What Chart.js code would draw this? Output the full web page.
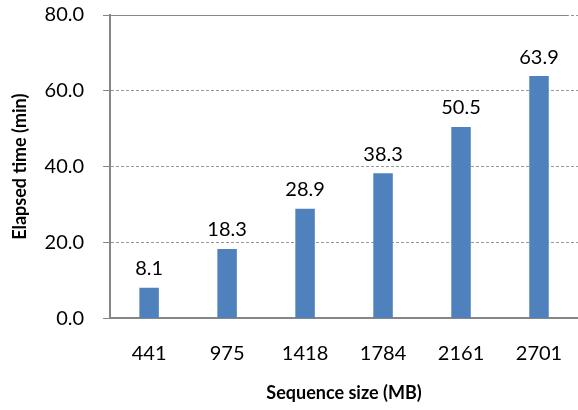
<!DOCTYPE html>
<html>
<head>
<meta charset="utf-8">
<script src="https://cdn.jsdelivr.net/npm/chart.js@4"></script>
<style>
  html, body { margin: 0; padding: 0; background: #fff; }
  #wrap { width: 578px; height: 410px; }
</style>
</head>
<body>
<div id="wrap"><canvas id="myChart"></canvas></div>
<script>
var sizes = ["441", "975", "1418", "1784", "2161", "2701"];
var elapsed = [8.1, 18.3, 28.9, 38.3, 50.5, 63.9];
var yTicks = [0, 20, 40, 60, 80];

var FONT = "Lato, 'Open Sans', sans-serif";

// value labels above each bar
var valueLabels = {
  id: "valueLabels",
  afterDatasetsDraw: function (chart) {
    var c = chart.ctx;
    var meta = chart.getDatasetMeta(0);
    c.save();
    c.font = "20px " + FONT;
    c.fillStyle = "#000";
    c.textAlign = "center";
    c.textBaseline = "bottom";
    meta.data.forEach(function (bar, i) {
      c.fillText(elapsed[i].toFixed(1), bar.x, bar.y - 9);
    });
    c.restore();
  },
};

// solid line at the top of the value axis
var topLine = {
  id: "topLine",
  afterDraw: function (chart) {
    var c = chart.ctx;
    var y = chart.scales.y.getPixelForValue(yTicks[yTicks.length - 1]);
    c.save();
    c.strokeStyle = "#868686";
    c.lineWidth = 1;
    c.beginPath();
    c.moveTo(chart.chartArea.left - 7, y + 0.5);
    c.lineTo(chart.chartArea.right - 10, y + 0.5);
    c.stroke();
    c.restore();
  },
};

var ctx = document.getElementById("myChart").getContext("2d");
var myChart = new Chart(ctx, {
  type: "bar",
  data: {
    labels: sizes,
    datasets: [
      {
        label: "Elapsed time",
        data: elapsed,
        backgroundColor: "#4F81BD",
        borderWidth: 0,
        categoryPercentage: 1,
        barPercentage: 0.25,
      },
    ],
  },
  options: {
    responsive: true,
    maintainAspectRatio: false,
    animation: false,
    layout: { padding: { left: 9, right: 0, top: 15, bottom: 6 } },
    plugins: {
      legend: { display: false },
      tooltip: { enabled: false },
    },
    scales: {
      y: {
        min: yTicks[0],
        max: yTicks[yTicks.length - 1],
        afterBuildTicks: function (axis) {
          axis.ticks = yTicks.map(function (v) { return { value: v }; });
        },
        afterFit: function (axis) {
          axis.paddingTop = 0;
        },
        ticks: {
          padding: 19,
          color: "#000",
          font: { family: FONT, size: 20 },
          callback: function (v) { return Number(v).toFixed(1); },
        },
        grid: {
          color: "#999",
          tickColor: "#868686",
          tickLength: 7,
          tickBorderDash: [],
        },
        border: { color: "#868686", width: 2, dash: [3, 2] },
        title: {
          display: true,
          text: "Elapsed time (min)",
          color: "#000",
          font: { family: FONT, size: 18, weight: "bold" },
          padding: { top: 0, bottom: -5 },
        },
      },
      x: {
        afterFit: function (axis) {
          axis.paddingRight = 0;
        },
        grid: { display: false, drawTicks: false },
        border: { color: "#868686", width: 2 },
        ticks: {
          padding: 23,
          color: "#000",
          font: { family: FONT, size: 20 },
        },
        title: {
          display: true,
          text: "Sequence size (MB)",
          color: "#000",
          font: { family: FONT, size: 18, weight: "bold" },
          padding: { top: -6, bottom: 0 },
        },
      },
    },
  },
  plugins: [valueLabels, topLine],
});
</script>
</body>
</html>
